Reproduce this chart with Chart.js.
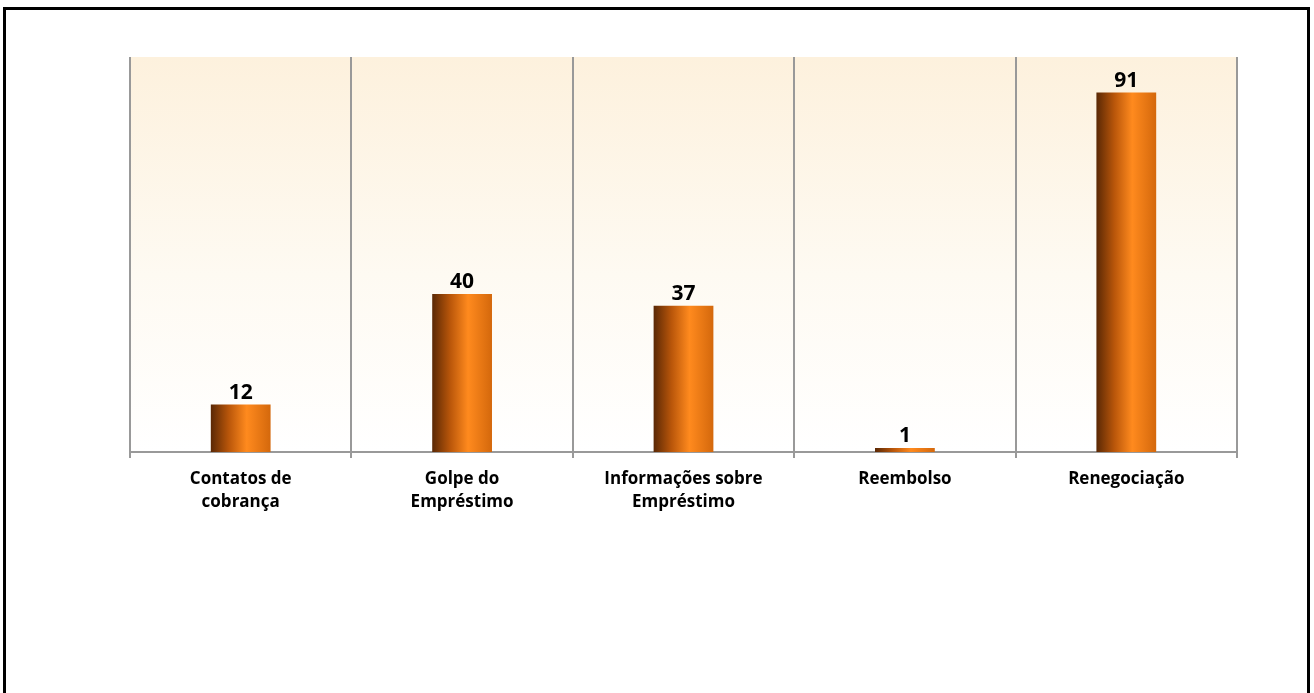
<!DOCTYPE html>
<html>
<head>
<meta charset="utf-8">
<script src="https://cdn.jsdelivr.net/npm/chart.js@4/dist/chart.umd.min.js"></script>
<style>
	html, body { margin: 0; padding: 0; background: #fff; overflow: hidden; }
	#moldura {
		position: absolute; left: 3px; top: 7px; width: 1301px; height: 700px;
		border: 3px solid #000; border-bottom: none;
	}
	#grafico { position: absolute; left: 0; top: 0; }
</style>
</head>
<body>
<div id="moldura"></div>
<canvas id="grafico" width="1314" height="693"></canvas>
<script>
var categorias = [['Contatos de', 'cobrança'], ['Golpe do', 'Empréstimo'], ['Informações sobre', 'Empréstimo'], 'Reembolso', 'Renegociação'];
var valores = [12, 40, 37, 1, 91];
var larguraBarra = 0.27;

// fundo creme em degradê dentro da área do gráfico
var fundoPlugin = {
	id: 'fundo',
	beforeDraw: function(chart){
		var a = chart.chartArea, ctx = chart.ctx;
		var g = ctx.createLinearGradient(0, a.top, 0, a.bottom);
		g.addColorStop(0, '#fdf1dd');
		g.addColorStop(0.55, '#fefaf2');
		g.addColorStop(1, '#ffffff');
		ctx.save();
		ctx.fillStyle = g;
		ctx.fillRect(a.left, a.top, a.right - a.left, a.bottom - a.top);
		ctx.restore();
	}
};

// valor escrito acima de cada barra
var rotulosPlugin = {
	id: 'rotulos',
	afterDatasetsDraw: function(chart){
		var ctx = chart.ctx;
		var meta = chart.getDatasetMeta(0);
		ctx.save();
		ctx.font = 'bold 21px "Open Sans", sans-serif';
		ctx.fillStyle = '#000';
		ctx.textAlign = 'center';
		ctx.textBaseline = 'alphabetic';
		meta.data.forEach(function(barra, i){
			ctx.fillText(valores[i], barra.x, barra.y - 6);
		});
		ctx.restore();
	}
};

function corBarra(c){
	var chart = c.chart;
	var x = chart.scales.x;
	if (!x || x.width === undefined || !isFinite(x.getPixelForValue(c.dataIndex))) return '#f07a10';
	var centro = x.getPixelForValue(c.dataIndex);
	var meia = (x.width / categorias.length) * larguraBarra / 2;
	var g = chart.ctx.createLinearGradient(centro - meia, 0, centro + meia, 0);
	g.addColorStop(0, '#5a2805');
	g.addColorStop(0.3, '#b9560a');
	g.addColorStop(0.6, '#ff8a1e');
	g.addColorStop(1, '#d4680c');
	return g;
}

var ctx = document.getElementById('grafico').getContext('2d');
var myChart = new Chart(ctx, {
	type: 'bar',
	data: {
		labels: categorias,
		datasets: [{
			data: valores,
			backgroundColor: corBarra,
			borderWidth: 0,
			categoryPercentage: 1,
			barPercentage: larguraBarra
		}]
	},
	options: {
		responsive: false,
		animation: false,
		layout: { padding: { left: 130, right: 77, top: 57, bottom: 0 } },
		plugins: { legend: { display: false }, tooltip: { enabled: false } },
		scales: {
			y: {
				display: false,
				min: 0,
				max: 100
			},
			x: {
				afterFit: function(scale){ scale.height = 693 - 452; },
				grid: {
					offset: true,
					color: '#999999',
					lineWidth: 2,
					tickLength: 6,
					drawOnChartArea: true
				},
				border: { color: '#999999', width: 2 },
				ticks: {
					color: '#000',
					padding: 10,
					maxRotation: 0,
					font: { family: '"Open Sans", sans-serif', size: 17, weight: 'bold', lineHeight: 1.35 }
				}
			}
		}
	},
	plugins: [fundoPlugin, rotulosPlugin]
});
</script>
</body>
</html>
